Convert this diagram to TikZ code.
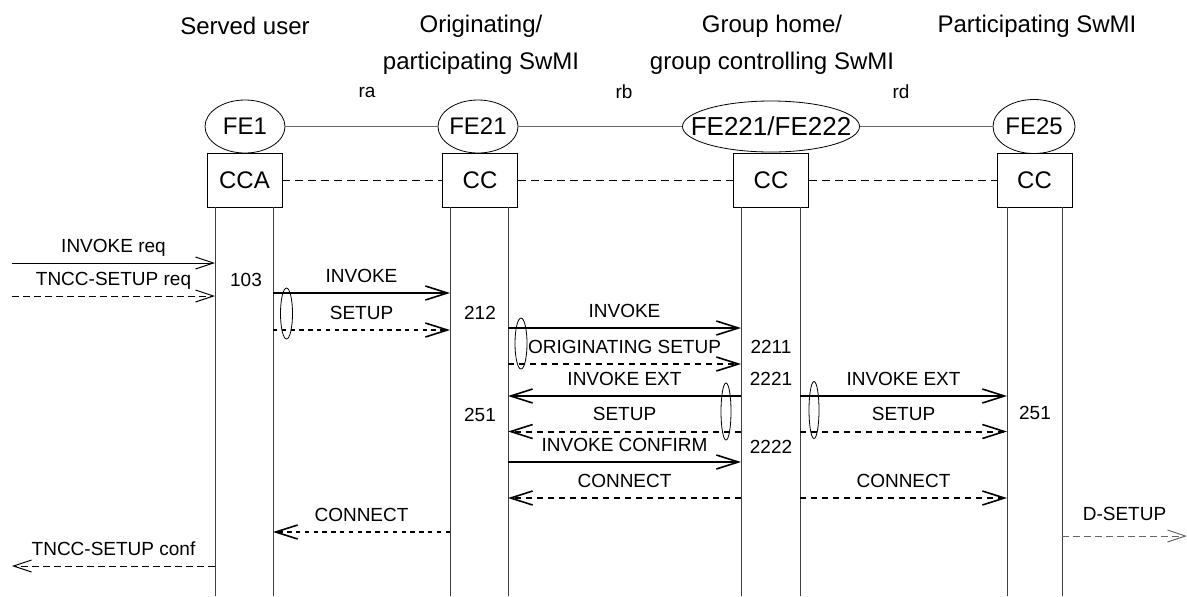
\documentclass[tikz,border=0pt]{standalone}
\usepackage{fontspec}
\setmainfont{Liberation Sans}
\usetikzlibrary{shapes.geometric,arrows.meta}

\begin{document}
\begin{tikzpicture}
[x=0.5pt,y=-0.5pt]
\tikzstyle{fe node}=[ellipse,draw,inner sep=0,minimum width=40pt,minimum height=26.5pt,font=\fontsize{12}{14}\selectfont]
\tikzstyle{cc node}=[rectangle,draw,minimum width=37.5pt,minimum height=27pt,font=\fontsize{12}{14}\selectfont]
\tikzstyle{title}=[align=center,font=\fontsize{12}{18.5}\selectfont]
\tikzstyle{ref}=[font=\fontsize{9.5}{11}\selectfont]
\tikzstyle{num}=[font=\fontsize{9.5}{11}\selectfont]
\tikzstyle{msg label}=[font=\fontsize{9.5}{11}\selectfont,text height=7pt,text depth=2pt,inner sep=0,yshift=8pt]
\tikzstyle{group mark}=[ellipse,draw,inner sep=0,minimum width=6pt,minimum height=25.5pt]
\tikzstyle{life}=[black!75,line width=0.5pt]
\tikzstyle{msg}=[line width=1pt,-{Straight Barb[length=11pt,width=7pt,line width=0.8pt]}]
\tikzstyle{msg dash}=[msg,dash pattern=on 3pt off 2.5pt]
\tikzstyle{msg dot}=[msg,line width=1.4pt,dash pattern=on 2.2pt off 2.2pt]
\tikzstyle{prim}=[line width=0.5pt,-{Straight Barb[length=9pt,width=6pt,line width=0.5pt]}]
\tikzstyle{prim dash}=[prim,dash pattern=on 3.5pt off 2pt]

\useasboundingbox(0,0)rectangle(1187,596);

\node(t1)[title]at(245,26){Served user};
\node(t2)[title]at(481,44.5){Originating/\\participating SwMI};
\node(t3)[title]at(772,44.5){Group home/\\group controlling SwMI};
\node(t4)[title]at(1037,26){Participating SwMI};

\node(ra)[ref]at(367,92){ra};
\node(rb)[ref]at(624,92){rb};
\node(rd)[ref]at(901,92){rd};

\node(fe1)[fe node]at(245,126.5){\makebox[0pt]{FE1}};
\node(fe21)[fe node]at(478,126.5){\makebox[0pt]{FE21}};
\node(fe221)[fe node,minimum width=88.5pt,minimum height=25.5pt,font=\fontsize{13}{15}\selectfont]at(771,126.5){\makebox[0pt]{FE221/FE222}};
\node(fe25)[fe node,minimum width=41pt,minimum height=27pt]at(1034,126.5){\makebox[0pt]{FE25}};
\draw[black!60,line width=0.6pt](fe1)--(fe21)--(fe221)--(fe25);

\node(cca)[cc node]at(244.5,180){CCA};
\node(cc21)[cc node]at(480,180){CC};
\node(cc221)[cc node]at(771,180){CC};
\node(cc25)[cc node]at(1034.5,180){CC};
\draw[line width=0.5pt,dash pattern=on 4pt off 2.5pt](cca)--(cc21)--(cc221)--(cc25);

\foreach \n/\x in {u1/215,u2/273,o1/450,o2/508,g1/741,g2/800,p1/1007,p2/1062}
  {\coordinate(\n)at(\x,207);
   \draw[life](\n)--(\x,596);}

\coordinate(in1)at(12,263);
\coordinate(in2)at(12,296);
\coordinate(out1)at(12,566);
\coordinate(out2)at(1187,536);

\draw[prim](in1)--(u1|-in1)node[msg label,midway]{INVOKE req};
\draw[prim dash](in2)--(u1|-in2)node[msg label,midway]{TNCC-SETUP req};
\node(n103)[num]at(246,280){103};

\draw[msg](u2|-0,293)--(o1|-0,293)node[msg label,midway]{INVOKE};
\draw[msg dot](u2|-0,330)--(o1|-0,330)node[msg label,midway]{SETUP};
\node(m1)[group mark]at(286.5,313.5){};
\node(n212)[num]at(480,313){212};

\draw[msg](o2|-0,328)--(g1|-0,328)node[msg label,midway]{INVOKE};
\draw[msg dash](o2|-0,364)--(g1|-0,364)node[msg label,midway]{ORIGINATING SETUP};
\node(m2)[group mark]at(521,343.5){};
\node(n2211)[num]at(771,347){2211};

\draw[msg](g1|-0,396)--(o2|-0,396)node[msg label,midway]{INVOKE EXT};
\draw[msg dash](g1|-0,431.5)--(o2|-0,431.5)node[msg label,midway]{SETUP};
\node(m3)[group mark,minimum width=5pt,minimum height=28.5pt]at(726,411.5){};
\node(n2221)[num]at(771,379){2221};
\node(n251)[num]at(480,415){251};

\draw[msg](g2|-0,396)--(p1|-0,396)node[msg label,midway]{INVOKE EXT};
\draw[msg dash](g2|-0,431.5)--(p1|-0,431.5)node[msg label,midway]{SETUP};
\node(m4)[group mark,minimum width=5pt,minimum height=28.5pt]at(814,410){};
\node(n251b)[num]at(1035,413){251};

\draw[msg](o2|-0,462)--(g1|-0,462)node[msg label,midway]{INVOKE CONFIRM};
\node(n2222)[num]at(771,447){2222};

\draw[msg dash](g1|-0,498)--(o2|-0,498)node[msg label,midway]{CONNECT};
\draw[msg dash](g2|-0,498)--(p1|-0,498)node[msg label,midway]{CONNECT};

\draw[msg dot](o1|-0,532)--(u2|-0,532)node[msg label,midway]{CONNECT};
\draw[prim dash](u1|-out1)--(out1)node[msg label,midway]{TNCC-SETUP conf};
\draw[prim dash,black!60](p2|-out2)--(out2)node[msg label,midway,text=black,yshift=2.5pt]{D-SETUP};
\end{tikzpicture}
\end{document}
